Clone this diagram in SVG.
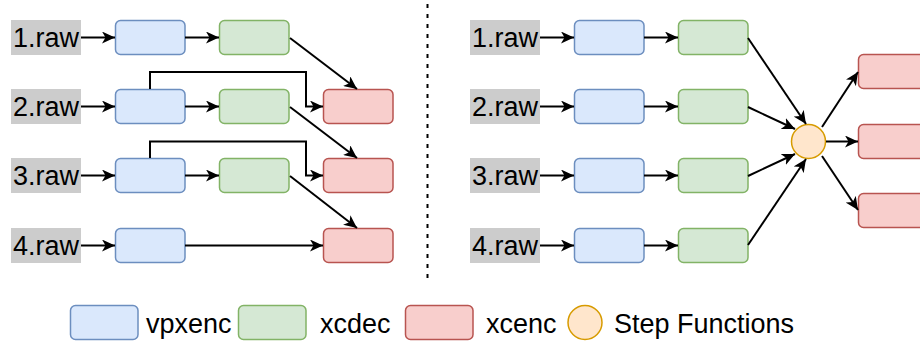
<svg xmlns="http://www.w3.org/2000/svg" width="920" height="341" viewBox="0 0 920 341">
<style>
.lbl{fill:#cccccc}
.t{font-family:"Liberation Sans",Arial,sans-serif;font-size:27px;fill:#000}
.tc{text-anchor:middle}
.b{fill:#dae8fc;stroke:#6c8ebf;stroke-width:1.5}
.g{fill:#d5e8d4;stroke:#82b366;stroke-width:1.5}
.r{fill:#f8cecc;stroke:#b85450;stroke-width:1.5}
.o{fill:#ffe6cc;stroke:#d79b00;stroke-width:1.5}
.e{fill:none;stroke:#000;stroke-width:2;marker-end:url(#ah)}
</style>
<defs>
<marker id="ah" markerUnits="userSpaceOnUse" markerWidth="14" markerHeight="12" viewBox="0 0 14 12" refX="13" refY="6" orient="auto">
<path d="M0,0 L13,6 L0,12 L3.5,6 Z" fill="#000"/>
</marker>
</defs>

<line x1="427.5" y1="4" x2="427.5" y2="280" stroke="#000" stroke-width="2" stroke-dasharray="4 6"/>

<!-- Left panel nodes -->
<g id="L-raw1"><rect class="lbl" x="11" y="20" width="70" height="35"/><text class="t tc" x="46" y="47">1.raw</text></g>
<g id="L-raw2"><rect class="lbl" x="11" y="89" width="70" height="35"/><text class="t tc" x="46" y="116">2.raw</text></g>
<g id="L-raw3"><rect class="lbl" x="11" y="158" width="70" height="35"/><text class="t tc" x="46" y="185">3.raw</text></g>
<g id="L-raw4"><rect class="lbl" x="11" y="228" width="70" height="35"/><text class="t tc" x="46" y="255">4.raw</text></g>

<g id="L-vpx1"><rect class="b" x="115.5" y="20.5" width="69.5" height="34" rx="5"/></g>
<g id="L-vpx2"><rect class="b" x="115.5" y="89.5" width="69.5" height="34" rx="5"/></g>
<g id="L-vpx3"><rect class="b" x="115.5" y="158.5" width="69.5" height="34" rx="5"/></g>
<g id="L-vpx4"><rect class="b" x="115.5" y="228.5" width="69.5" height="34" rx="5"/></g>

<g id="L-dec1"><rect class="g" x="219.5" y="20.5" width="69.5" height="34" rx="5"/></g>
<g id="L-dec2"><rect class="g" x="219.5" y="89.5" width="69.5" height="34" rx="5"/></g>
<g id="L-dec3"><rect class="g" x="219.5" y="158.5" width="69.5" height="34" rx="5"/></g>

<g id="L-enc2"><rect class="r" x="323.5" y="89.5" width="69.5" height="34" rx="5"/></g>
<g id="L-enc3"><rect class="r" x="323.5" y="158.5" width="69.5" height="34" rx="5"/></g>
<g id="L-enc4"><rect class="r" x="323.5" y="228.5" width="69.5" height="34" rx="5"/></g>

<!-- Right panel nodes -->
<g id="R-raw1"><rect class="lbl" x="470" y="20" width="70" height="35"/><text class="t tc" x="505" y="47">1.raw</text></g>
<g id="R-raw2"><rect class="lbl" x="470" y="89" width="70" height="35"/><text class="t tc" x="505" y="116">2.raw</text></g>
<g id="R-raw3"><rect class="lbl" x="470" y="158" width="70" height="35"/><text class="t tc" x="505" y="185">3.raw</text></g>
<g id="R-raw4"><rect class="lbl" x="470" y="228" width="70" height="35"/><text class="t tc" x="505" y="255">4.raw</text></g>

<g id="R-vpx1"><rect class="b" x="574.5" y="20.5" width="69.5" height="34" rx="5"/></g>
<g id="R-vpx2"><rect class="b" x="574.5" y="89.5" width="69.5" height="34" rx="5"/></g>
<g id="R-vpx3"><rect class="b" x="574.5" y="158.5" width="69.5" height="34" rx="5"/></g>
<g id="R-vpx4"><rect class="b" x="574.5" y="228.5" width="69.5" height="34" rx="5"/></g>

<g id="R-dec1"><rect class="g" x="678.5" y="20.5" width="69.5" height="34" rx="5"/></g>
<g id="R-dec2"><rect class="g" x="678.5" y="89.5" width="69.5" height="34" rx="5"/></g>
<g id="R-dec3"><rect class="g" x="678.5" y="158.5" width="69.5" height="34" rx="5"/></g>
<g id="R-dec4"><rect class="g" x="678.5" y="228.5" width="69.5" height="34" rx="5"/></g>

<g id="R-sf"><circle class="o" cx="808.5" cy="141.5" r="17"/></g>

<g id="R-enc1"><rect class="r" x="858.5" y="54.5" width="69.5" height="34" rx="5"/></g>
<g id="R-enc2"><rect class="r" x="858.5" y="124.5" width="69.5" height="34" rx="5"/></g>
<g id="R-enc3"><rect class="r" x="858.5" y="193.5" width="69.5" height="34" rx="5"/></g>

<!-- Connectors -->
<g id="connectors">
<line class="e" x1="81" y1="37.5" x2="115" y2="37.5"/>
<line class="e" x1="81" y1="106.5" x2="115" y2="106.5"/>
<line class="e" x1="81" y1="175.5" x2="115" y2="175.5"/>
<line class="e" x1="81" y1="245.5" x2="115" y2="245.5"/>
<line class="e" x1="185" y1="37.5" x2="219" y2="37.5"/>
<line class="e" x1="185" y1="106.5" x2="219" y2="106.5"/>
<line class="e" x1="185" y1="175.5" x2="219" y2="175.5"/>
<line class="e" x1="290" y1="38" x2="357" y2="89"/>
<line class="e" x1="290" y1="107" x2="357" y2="158"/>
<line class="e" x1="290" y1="176" x2="357" y2="228"/>
<path class="e" d="M150,89 V72 H306 V106.5 H323"/>
<path class="e" d="M150,158 V141.5 H306 V175.5 H323"/>
<line class="e" x1="185" y1="245.5" x2="323" y2="245.5"/>

<line class="e" x1="540" y1="37.5" x2="574" y2="37.5"/>
<line class="e" x1="540" y1="106.5" x2="574" y2="106.5"/>
<line class="e" x1="540" y1="175.5" x2="574" y2="175.5"/>
<line class="e" x1="540" y1="245.5" x2="574" y2="245.5"/>
<line class="e" x1="644" y1="37.5" x2="678" y2="37.5"/>
<line class="e" x1="644" y1="106.5" x2="678" y2="106.5"/>
<line class="e" x1="644" y1="175.5" x2="678" y2="175.5"/>
<line class="e" x1="644" y1="245.5" x2="678" y2="245.5"/>
<line class="e" x1="748" y1="38" x2="806" y2="124"/>
<line class="e" x1="748" y1="107" x2="795" y2="129"/>
<line class="e" x1="748" y1="176" x2="795" y2="154"/>
<line class="e" x1="748" y1="245" x2="806" y2="159"/>
<line class="e" x1="822" y1="127" x2="858" y2="72"/>
<line class="e" x1="826" y1="141.5" x2="858" y2="141.5"/>
<line class="e" x1="822" y1="156" x2="858" y2="210"/>
</g>

<!-- Legend -->
<g id="legend-vpxenc"><rect class="b" x="70.5" y="305.5" width="67.5" height="34" rx="5"/><text class="t" x="146" y="333">vpxenc</text></g>
<g id="legend-xcdec"><rect class="g" x="238.5" y="305.5" width="67.5" height="34" rx="5"/><text class="t" x="320" y="333">xcdec</text></g>
<g id="legend-xcenc"><rect class="r" x="405.5" y="305.5" width="67.5" height="34" rx="5"/><text class="t" x="486" y="333">xcenc</text></g>
<g id="legend-sf"><circle class="o" cx="585" cy="322.5" r="17"/><text class="t" x="614" y="333">Step Functions</text></g>
</svg>
